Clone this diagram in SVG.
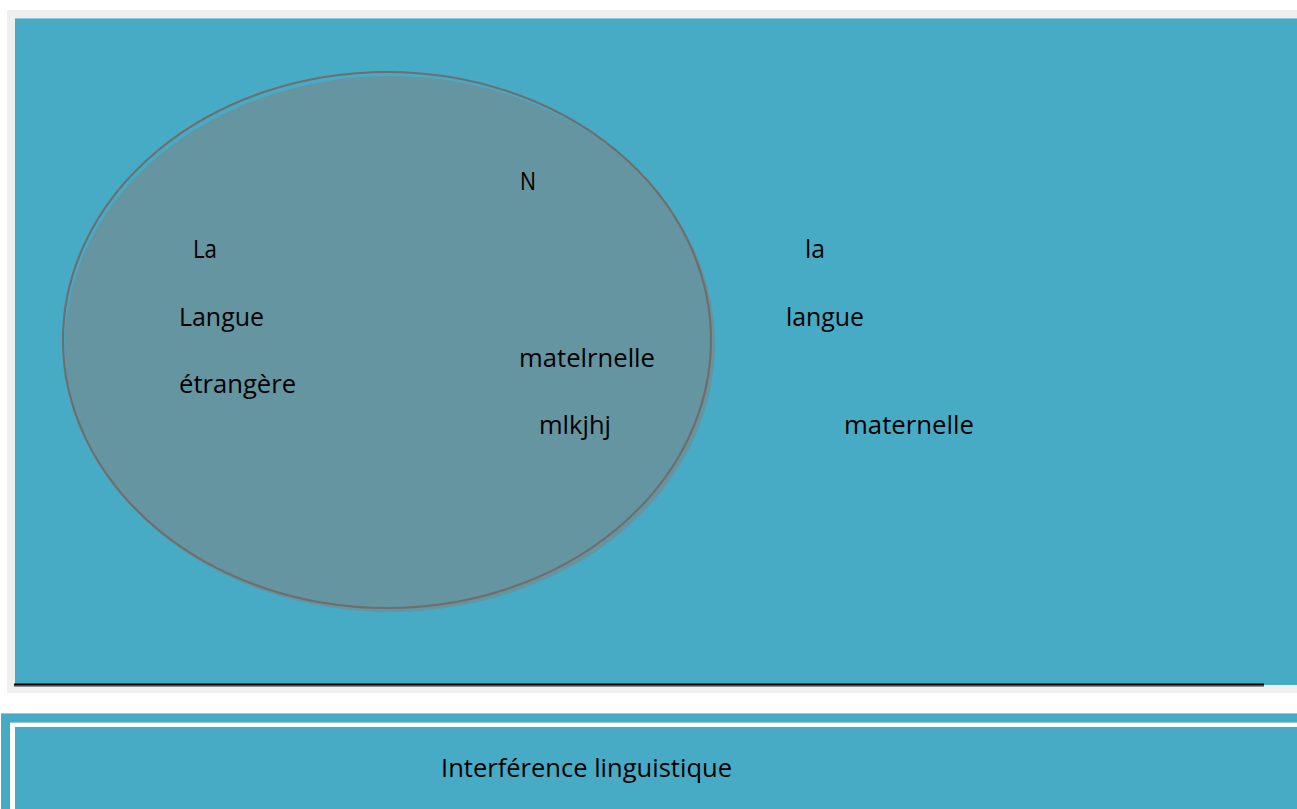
<svg xmlns="http://www.w3.org/2000/svg" width="1297" height="809" viewBox="0 0 1297 809">
<style>
.t{font-family:"Open Sans","Liberation Sans",sans-serif;font-size:26px;fill:#000}
.blue{fill:#48abc5}
</style>
<rect width="1297" height="809" fill="#ffffff"/>
<g id="top-panel">
<rect x="7" y="10" width="1290" height="683" fill="#efefef"/>
<rect x="15" y="18" width="1282" height="667" class="blue"/>
<line x1="15" y1="18.5" x2="1297" y2="18.5" stroke="#8fcbdb" stroke-width="1"/>
<line x1="14" y1="686" x2="1264" y2="686" stroke="#777" stroke-width="1.5"/>
<line x1="14" y1="684.5" x2="1264" y2="684.5" stroke="#000" stroke-width="2"/>
</g>
<g id="ellipse-node">
<ellipse cx="390" cy="344" rx="325" ry="268" fill="#6495a0"/>
<ellipse cx="387" cy="340" rx="324" ry="268" fill="none" stroke="#6e6e6e" stroke-width="2.2"/>
</g>
<g id="connectors"></g>
<g id="labels">
<text class="t" x="520" y="190" textLength="16" lengthAdjust="spacingAndGlyphs">N</text>
<text class="t" x="193" y="258" textLength="24" lengthAdjust="spacingAndGlyphs">La</text>
<text class="t" x="179" y="326" textLength="85" lengthAdjust="spacingAndGlyphs">Langue</text>
<text class="t" x="179" y="393" textLength="117" lengthAdjust="spacingAndGlyphs">étrangère</text>
<text class="t" x="519" y="367" textLength="136" lengthAdjust="spacingAndGlyphs">matelrnelle</text>
<text class="t" x="539" y="434" textLength="72" lengthAdjust="spacingAndGlyphs">mlkjhj</text>
<text class="t" x="805" y="258" textLength="20" lengthAdjust="spacingAndGlyphs">la</text>
<text class="t" x="786" y="326" textLength="78" lengthAdjust="spacingAndGlyphs">langue</text>
<text class="t" x="844" y="434" textLength="130" lengthAdjust="spacingAndGlyphs">maternelle</text>
</g>
<g id="bottom-panel">
<rect x="1" y="713" width="1296" height="96" class="blue"/>
<line x1="1" y1="713.5" x2="1297" y2="713.5" stroke="#8fcbdb" stroke-width="1"/>
<rect x="10" y="722" width="1287" height="87" fill="#ffffff"/>
<line x1="10" y1="722.5" x2="1297" y2="722.5" stroke="#8fcbdb" stroke-width="1"/>
<rect x="15" y="727" width="1282" height="82" class="blue"/>
<text class="t" x="441" y="777" textLength="291" lengthAdjust="spacingAndGlyphs">Interférence linguistique</text>
</g>
</svg>
